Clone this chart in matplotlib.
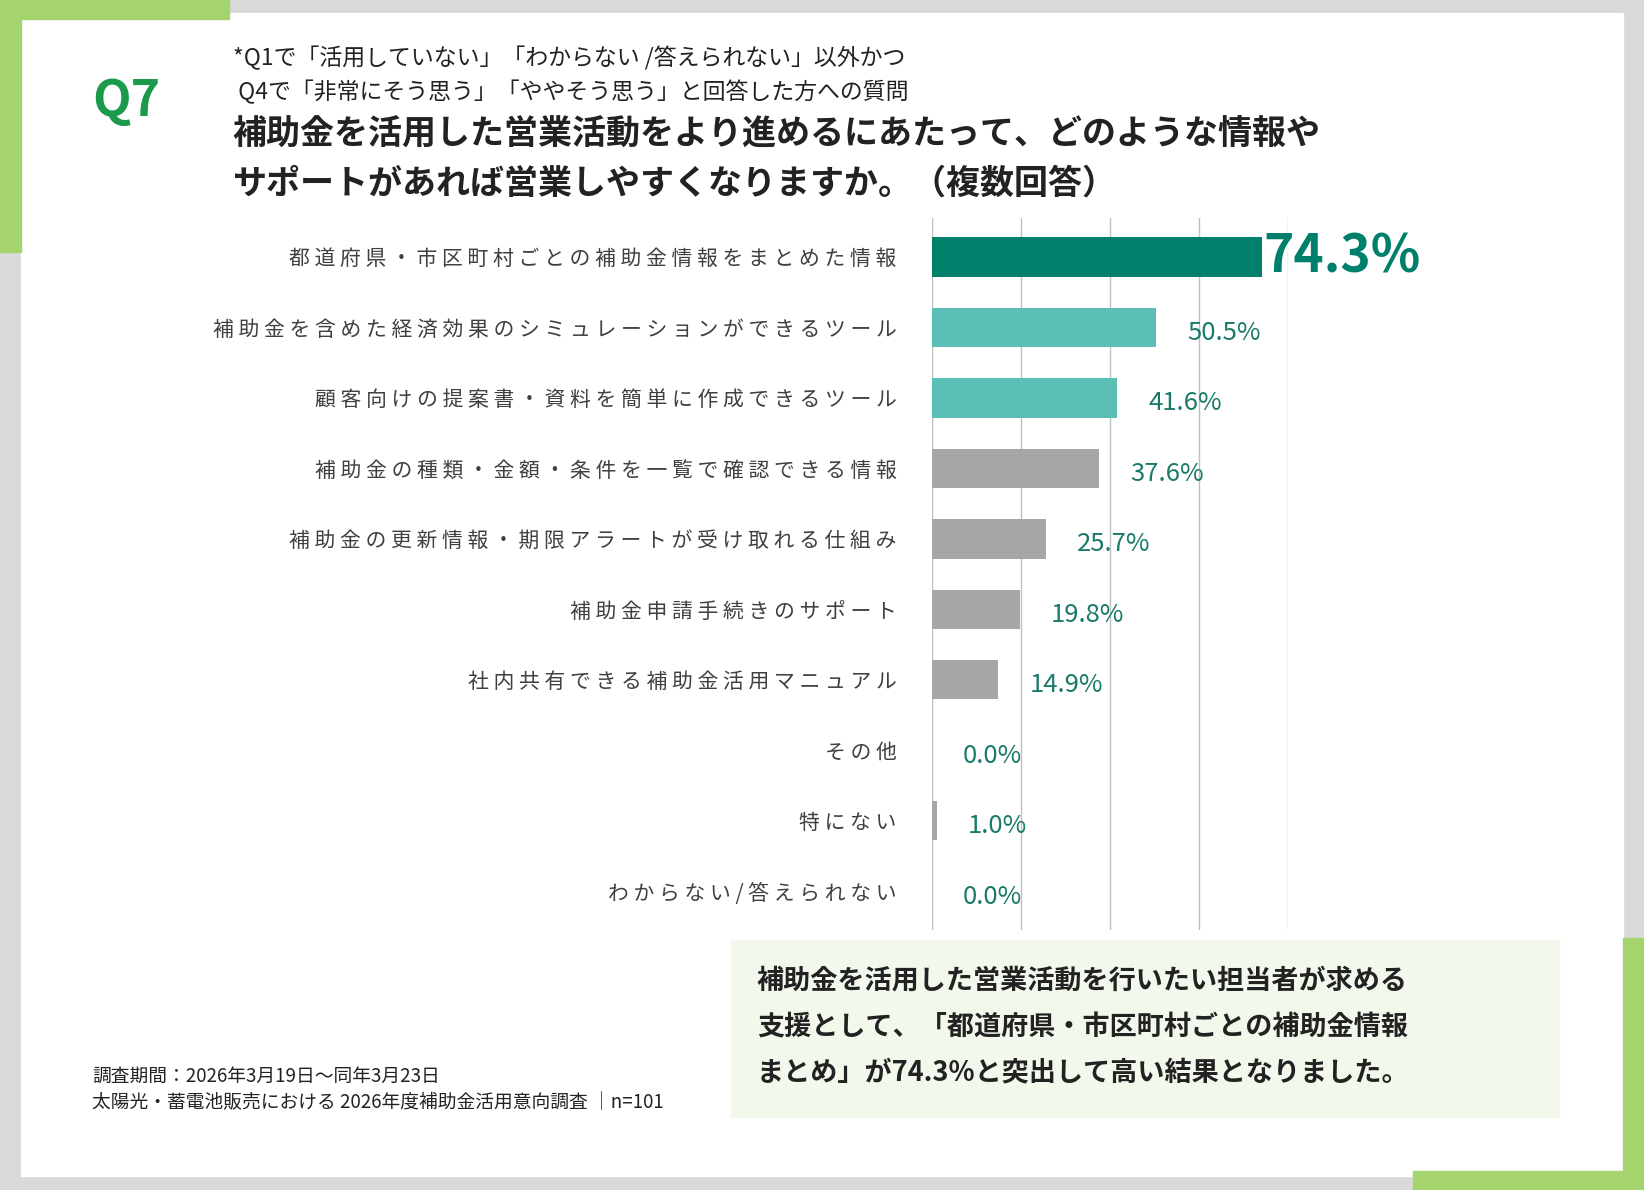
import matplotlib.pyplot as plt
from matplotlib.patches import Rectangle

plt.rcParams['font.family'] = ['Noto Sans CJK JP', 'DejaVu Sans']

categories = ['都道府県・市区町村ごとの補助金情報をまとめた情報',
              '補助金を含めた経済効果のシミュレーションができるツール',
              '顧客向けの提案書・資料を簡単に作成できるツール',
              '補助金の種類・金額・条件を一覧で確認できる情報',
              '補助金の更新情報・期限アラートが受け取れる仕組み',
              '補助金申請手続きのサポート',
              '社内共有できる補助金活用マニュアル',
              'その他',
              '特にない',
              'わからない/答えられない']
values = [74.3, 50.5, 41.6, 37.6, 25.7, 19.8, 14.9, 0.0, 1.0, 0.0]
colors = ['#00806b', '#5bbfb5', '#5bbfb5'] + ['#a6a6a6'] * 7

W, H = 1568, 1135
fig = plt.figure(figsize=(16.44, 11.9), dpi=100)
fig.patch.set_facecolor('#d9d9d9')

def R(x, y, w, h, c):
    fig.add_artist(Rectangle((x / W, 1 - (y + h) / H), w / W, h / H, color=c,
                             transform=fig.transFigure, zorder=0))

def T(x, y, s, **kw):
    fig.text(x / W, 1 - y / H, s, **kw)

R(20, 12, 1528, 1110, 'white')
green = '#a5d46f'
R(0, 0, 20, 240, green)
R(0, 0, 218, 18, green)
R(1548, 895, 20, 240, green)
R(1348, 1117, 220, 18, green)

T(88, 97, 'Q7', fontsize=36, fontweight='bold', color='#1a9a4a', va='center')
T(222, 55, '*Q1で「活用していない」「わからない /答えられない」以外かつ', fontsize=16.5, va='center', color='#222222')
T(222, 88, ' Q4で「非常にそう思う」「ややそう思う」と回答した方への質問', fontsize=16.5, va='center', color='#222222')
T(222, 128, '補助金を活用した営業活動をより進めるにあたって、どのような情報や', fontsize=24.5, fontweight='bold', va='center', color='#222222')
T(222, 175, 'サポートがあれば営業しやすくなりますか。（複数回答）', fontsize=24.5, fontweight='bold', va='center', color='#222222')

ax = fig.add_axes([889 / W, 1 - 887 / H, (1228 - 889) / W, (887 - 208) / H])
y = list(range(len(categories)))
ax.barh(y, values, color=colors, height=0.56, zorder=2)
ax.set_xlim(0, 80)
ax.set_ylim(len(categories) - 0.45, -0.55)
ax.set_xticks([0, 20, 40, 60, 80])
ax.grid(axis='x', color='#bfbfbf', lw=1, zorder=0)
ax.tick_params(left=False, bottom=False, labelbottom=False)
ax.set_yticks(y)
ax.set_yticklabels([' '.join(c) for c in categories], fontsize=15, color='#404040')
ax.tick_params(axis='y', pad=22)
for s in ax.spines.values():
    s.set_visible(False)
ax.axvline(0, color='#999999', lw=1.2, zorder=1)
for i, v in enumerate(values):
    if i == 0:
        ax.text(v + 0.3, i, f'{v:.1f}%', fontsize=37, fontweight='bold', color='#00806b',
                va='center', clip_on=False)
    else:
        ax.text(v + 7, i + 0.08, f'{v:.1f}%', fontsize=18.5, color='#1a7a6a', va='center',
                clip_on=False)

R(697, 897, 790, 168, '#f2f8ec')
for yy, s in zip([935, 980, 1023], ['補助金を活用した営業活動を行いたい担当者が求める',
                                     '支援として、「都道府県・市区町村ごとの補助金情報',
                                     'まとめ」が74.3%と突出して高い結果となりました。']):
    T(722, yy, s, fontsize=19.5, fontweight='bold', va='center', color='#222222')

T(88, 1027, '調査期間：2026年3月19日～同年3月23日', fontsize=13.5, va='center', color='#222222')
T(88, 1052, '太陽光・蓄電池販売における 2026年度補助金活用意向調査 │n=101', fontsize=13.5, va='center', color='#222222')

fig.savefig('out.png', dpi=100, facecolor=fig.get_facecolor())
